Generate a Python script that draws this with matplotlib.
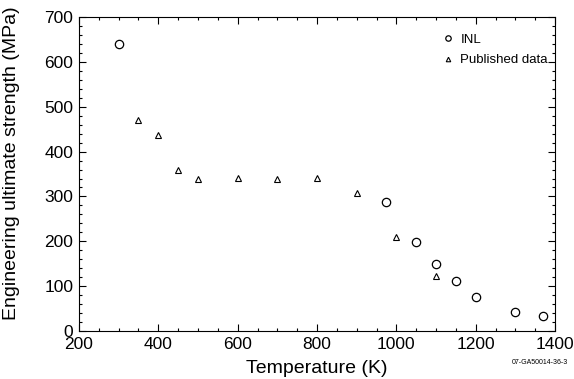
import matplotlib
matplotlib.use('Agg')
import matplotlib.pyplot as plt
from matplotlib.ticker import MultipleLocator

plt.rcParams['font.family'] = ['Liberation Sans', 'DejaVu Sans']

# INL measurements
inl_temp = [300, 975, 1050, 1100, 1150, 1200, 1300, 1370]
inl_uts = [640, 287, 199, 150, 111, 76, 43, 33]

# published data
pub_temp = [350, 400, 450, 500, 600, 700, 800, 900, 1000, 1100]
pub_uts = [470, 436, 360, 340, 341, 340, 342, 307, 210, 122]

fig = plt.figure(figsize=(5.74, 3.79), dpi=100)
ax = fig.add_axes([0.1376, 0.1266, 0.8294, 0.8284])

ax.plot(inl_temp, inl_uts, 'o', mfc='none', mec='black', mew=0.9, ms=6, label='INL')
ax.plot(pub_temp, pub_uts, '^', mfc='none', mec='black', mew=0.8, ms=5, label='Published data')

ax.set_xlim(200, 1400)
ax.set_ylim(0, 700)
ax.xaxis.set_major_locator(MultipleLocator(200))
ax.xaxis.set_minor_locator(MultipleLocator(50))
ax.yaxis.set_major_locator(MultipleLocator(100))
ax.yaxis.set_minor_locator(MultipleLocator(20))
ax.tick_params(which='both', direction='in', top=True, right=True, width=0.8)
ax.tick_params(which='major', length=5, labelsize=12.5, pad=4)
ax.tick_params(which='minor', length=2.5)
for s in ax.spines.values():
    s.set_linewidth(0.8)

ax.set_xlabel('Temperature (K)', fontsize=14, labelpad=6)
ax.set_ylabel('Engineering ultimate strength (MPa)', fontsize=14)
ax.yaxis.set_label_coords(-0.124, 0.535)

ax.legend(loc='upper right', bbox_to_anchor=(1.0, 0.97), frameon=False,
          fontsize=9.5, handletextpad=0.5, handlelength=0.8, borderaxespad=0,
          borderpad=0.55, labelspacing=0.6, markerscale=0.65)

fig.text(0.99, 0.035, '07-GA50014-36-3', fontsize=5, ha='right', va='bottom')

fig.savefig('out.png', dpi=100)
